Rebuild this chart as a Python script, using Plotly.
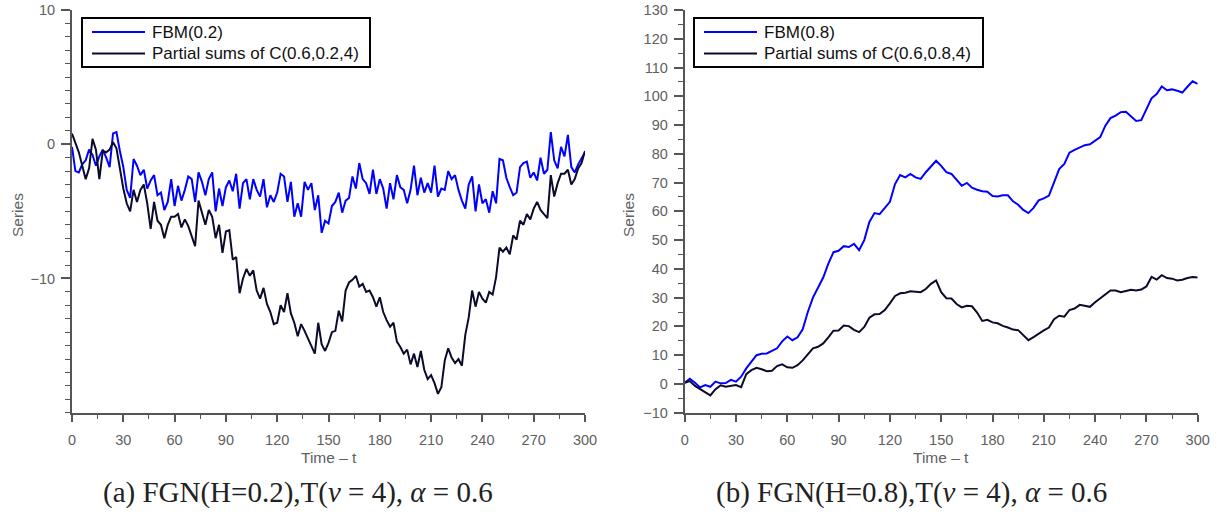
import plotly.graph_objects as go

# ---- panel (a): H = 0.2, sampled every 2 time steps ----
t_a = list(range(0, 301, 2))
fbm_a = [
    -0.2, -2.0, -2.1, -1.5, -1.2, -0.4, -0.8, -1.6, -0.9, -0.4,
    -1.0, -1.7, 0.8, 0.9, -0.5, -1.7, -3.4, -4.0, -1.1, -1.6,
    -2.3, -1.9, -3.3, -2.7, -2.3, -3.8, -3.6, -4.9, -4.3, -2.6,
    -4.6, -3.1, -4.2, -3.4, -2.4, -2.6, -4.3, -2.1, -2.8, -3.8,
    -2.6, -2.1, -5.0, -3.3, -4.6, -3.2, -2.7, -3.5, -2.2, -4.8,
    -2.9, -2.6, -4.1, -2.6, -3.4, -3.9, -2.6, -4.7, -3.8, -4.3,
    -3.6, -2.2, -2.4, -4.3, -2.8, -5.4, -4.4, -5.4, -2.8, -3.4,
    -2.9, -4.9, -3.8, -6.6, -5.7, -5.9, -4.6, -4.3, -3.6, -5.1,
    -4.2, -4.0, -2.4, -3.3, -1.4, -2.6, -2.9, -3.7, -1.9, -3.7,
    -2.6, -3.3, -4.8, -2.9, -4.1, -2.3, -3.2, -3.4, -4.4, -3.4,
    -1.6, -3.8, -2.5, -3.6, -2.9, -3.6, -1.6, -3.9, -3.3, -3.4,
    -2.0, -2.6, -2.3, -3.4, -4.2, -4.8, -3.0, -2.4, -5.0, -3.0,
    -4.4, -4.1, -5.1, -3.5, -4.4, -1.1, -1.2, -2.5, -3.2, -3.8,
    -3.6, -1.7, -1.4, -1.3, -2.5, -2.1, -2.7, -1.0, -2.2, -1.9,
    0.9, -1.2, -1.8, -0.2, -0.9, 0.7, -1.7, -2.1, -1.5, -1.0,
    -0.6,
]
psum_a = [
    0.8, 0.1, -0.6, -1.6, -2.6, -1.8, 0.4, -0.4, -2.6, -0.5,
    -0.6, -0.4, 0.15, -0.3, -1.9, -3.3, -4.4, -5.0, -3.4, -4.3,
    -3.4, -3.0, -4.4, -6.3, -4.3, -5.7, -6.0, -7.0, -6.0, -5.4,
    -5.4, -5.2, -6.2, -5.6, -6.1, -6.8, -7.6, -4.2, -5.1, -6.0,
    -4.9, -5.4, -7.0, -6.0, -8.1, -6.5, -6.4, -8.6, -8.4, -11.1,
    -10.0, -9.3, -9.8, -9.4, -10.9, -11.5, -10.7, -11.9, -12.5, -13.4,
    -13.3, -12.0, -12.5, -11.1, -12.6, -13.3, -14.3, -13.4, -13.9, -14.5,
    -15.0, -15.6, -13.3, -14.9, -15.4, -14.8, -14.0, -13.9, -12.4, -13.2,
    -10.9, -10.3, -10.1, -9.8, -10.6, -10.4, -11.0, -10.9, -11.4, -12.1,
    -11.4, -12.5, -13.1, -13.6, -13.3, -14.7, -15.1, -15.6, -15.3, -16.4,
    -15.6, -16.6, -15.4, -16.8, -17.5, -17.2, -17.8, -18.6, -18.1, -16.1,
    -15.2, -15.9, -16.3, -16.0, -16.5, -14.2, -12.9, -10.9, -12.1, -11.0,
    -11.5, -11.8, -11.0, -11.2, -9.9, -7.7, -8.0, -7.7, -8.2, -6.8,
    -7.1, -5.7, -6.0, -5.2, -5.6, -4.8, -4.3, -4.9, -5.2, -5.5,
    -2.3, -3.9, -2.9, -2.2, -2.2, -1.9, -3.0, -2.6, -1.8, -1.4,
    -0.5,
]

# ---- panel (b): H = 0.8, sampled every 3 time steps ----
t_b = list(range(0, 301, 3))
fbm_b = [
    0.4, 1.8, 0.4, -1.2, -0.4, -1.0, 0.8, 0.2, 0.3, 1.4,
    0.8, 2.5, 5.4, 7.8, 10.0, 10.5, 10.6, 11.5, 12.4, 14.8,
    16.5, 15.2, 16.2, 19.0, 25.0, 30.0, 33.8, 37.0, 41.8, 45.8,
    46.3, 47.9, 47.6, 48.7, 46.5, 50.0, 56.3, 59.4, 59.0, 61.0,
    63.3, 69.5, 72.6, 71.8, 73.0, 71.8, 71.3, 73.6, 75.8, 77.6,
    75.8, 73.6, 73.0, 71.1, 68.9, 69.9, 68.2, 67.5, 67.0, 66.8,
    65.3, 65.2, 65.6, 65.6, 63.5, 62.3, 60.5, 59.4, 61.2, 63.8,
    64.5, 65.5, 70.2, 74.7, 76.5, 80.4, 81.4, 82.3, 83.0, 83.3,
    84.4, 85.8, 89.8, 92.4, 93.3, 94.5, 94.6, 93.0, 91.4, 91.7,
    95.8, 99.3, 100.8, 103.4, 102.1, 102.4, 101.9, 101.3, 103.3, 105.2,
    104.3,
]
psum_b = [
    0.4, 1.0, -0.7, -1.8, -3.0, -4.0, -1.8, -0.5, -1.0, -0.6,
    -0.4, -1.1, 3.4, 4.8, 5.6, 5.1, 4.4, 4.6, 6.2, 6.8,
    5.8, 5.6, 6.5, 8.2, 10.5, 12.4, 12.9, 14.1, 16.2, 18.5,
    18.6, 20.3, 20.1, 18.8, 18.0, 19.8, 23.0, 24.2, 24.3, 25.7,
    28.0, 30.6, 31.5, 31.7, 32.2, 32.0, 31.9, 33.0, 34.8, 36.0,
    31.9, 29.8, 29.7, 27.8, 26.6, 27.2, 27.0, 24.8, 21.9, 22.3,
    21.4, 21.1, 20.2, 19.6, 18.9, 18.7, 16.9, 15.2, 16.3, 17.6,
    18.6, 19.6, 22.5, 23.7, 23.4, 25.7, 26.2, 27.5, 27.2, 26.8,
    28.4, 29.8, 31.2, 32.5, 32.5, 31.9, 32.3, 32.7, 32.5, 32.8,
    33.9, 37.2, 36.3, 37.8, 36.8, 36.6, 36.0, 36.2, 36.8, 37.2,
    37.0,
]

series_names_a = ["FBM(0.2)", "Partial sums of C(0.6,0.2,4)"]
series_names_b = ["FBM(0.8)", "Partial sums of C(0.6,0.8,4)"]
x_ticks = list(range(0, 301, 30))
ya_ticks = [-10, 0, 10]
yb_ticks = list(range(-10, 131, 10))

BLUE = "#0000ff"
NAVY = "#0b0b2b"
AXIS = "#555555"
LABEL = "#606060"
SANS = "Liberation Sans, Arial, sans-serif"
SERIF = "Liberation Serif, Times New Roman, serif"

W, H = 1224, 516


def px(x):
    return x / W


def py(y):
    return 1 - y / H


fig = go.Figure()
panels = [
    (t_a, [fbm_a, psum_a], series_names_a, "x", "y"),
    (t_b, [fbm_b, psum_b], series_names_b, "x2", "y2"),
]
for t, ys, names, xa, ya in panels:
    for y, name, color in zip(ys, names, [BLUE, NAVY]):
        fig.add_trace(go.Scatter(x=t, y=y, mode="lines", name=name,
                                 line=dict(color=color, width=2),
                                 xaxis=xa, yaxis=ya, showlegend=False))

y_dom = [py(412.7), py(10)]
xa_dom = [px(72), px(585)]
xb_dom = [px(684.7), px(1197.7)]


def x_axis(domain, anchor):
    return dict(domain=domain, anchor=anchor, range=[0, 300], tickvals=x_ticks,
                ticks="outside", ticklen=7, tickwidth=1.5, tickcolor=AXIS,
                showline=True, linecolor=AXIS, linewidth=2, showgrid=False,
                zeroline=False, automargin=False, ticklabelstandoff=6,
                tickfont=dict(family=SANS, size=14.5, color=LABEL),
                minor=dict(dtick=15, ticks="outside", ticklen=4, tickwidth=1.2,
                           tickcolor=AXIS, showgrid=False))


def y_axis(rng, ticks, minor_step, anchor):
    return dict(domain=y_dom, anchor=anchor, range=rng, tickvals=ticks,
                ticks="outside", ticklen=9, tickwidth=1.5, tickcolor=AXIS,
                showline=True, linecolor=AXIS, linewidth=2, showgrid=False,
                zeroline=False, automargin=False, ticklabelstandoff=3,
                tickfont=dict(family=SANS, size=14.5, color=LABEL),
                minor=dict(dtick=minor_step, ticks="outside", ticklen=5, tickwidth=1.2,
                           tickcolor=AXIS, showgrid=False))


fig.update_layout(
    width=W, height=H, margin=dict(l=0, r=0, t=0, b=0, autoexpand=False),
    paper_bgcolor="white", plot_bgcolor="white", showlegend=False,
    xaxis=x_axis(xa_dom, "y"),
    yaxis=y_axis([-20, 10], ya_ticks, 1, "x"),
    xaxis2=x_axis(xb_dom, "y2"),
    yaxis2=y_axis([-10, 130], yb_ticks, 5, "x2"),
)

# Boxed key in the upper-left corner of each panel
shapes = []
ann = []
for left, right, names in [(82, 370, series_names_a), (694, 983, series_names_b)]:
    shapes.append(dict(type="rect", xref="paper", yref="paper",
                       x0=px(left), x1=px(right), y0=py(67), y1=py(18),
                       line=dict(color="black", width=2), fillcolor="white", layer="above"))
    for row_y, name, color in zip([32, 53.5], names, [BLUE, NAVY]):
        shapes.append(dict(type="line", xref="paper", yref="paper",
                           x0=px(left + 10), x1=px(left + 63), y0=py(row_y), y1=py(row_y),
                           line=dict(color=color, width=2), layer="above"))
        ann.append(dict(text=name, x=px(left + 68), y=py(row_y), xref="paper", yref="paper",
                        xanchor="left", yanchor="middle", showarrow=False,
                        font=dict(family=SANS, size=17, color="#111111")))

for cx in [(xa_dom[0] + xa_dom[1]) / 2, (xb_dom[0] + xb_dom[1]) / 2]:
    ann.append(dict(text="Time – t", x=cx, y=py(457), xref="paper", yref="paper",
                    xanchor="center", yanchor="middle", showarrow=False,
                    font=dict(family=SANS, size=15.5, color=LABEL)))
for sx in [17, 628]:
    ann.append(dict(text="Series", x=px(sx), y=py(215), xref="paper", yref="paper",
                    xanchor="center", yanchor="middle", textangle=-90, showarrow=False,
                    font=dict(family=SANS, size=15.5, color=LABEL)))
captions = [
    ("(a) FGN(H=0.2),T(<i>ν</i> = 4), <i>α</i> = 0.6", 298),
    ("(b) FGN(H=0.8),T(<i>ν</i> = 4), <i>α</i> = 0.6", 911),
]
for text, cx in captions:
    ann.append(dict(text=text, x=px(cx), y=py(492), xref="paper", yref="paper",
                    xanchor="center", yanchor="middle", showarrow=False,
                    font=dict(family=SERIF, size=29, color="#222222")))
fig.update_layout(shapes=shapes, annotations=ann)

fig.write_html("out.html")
